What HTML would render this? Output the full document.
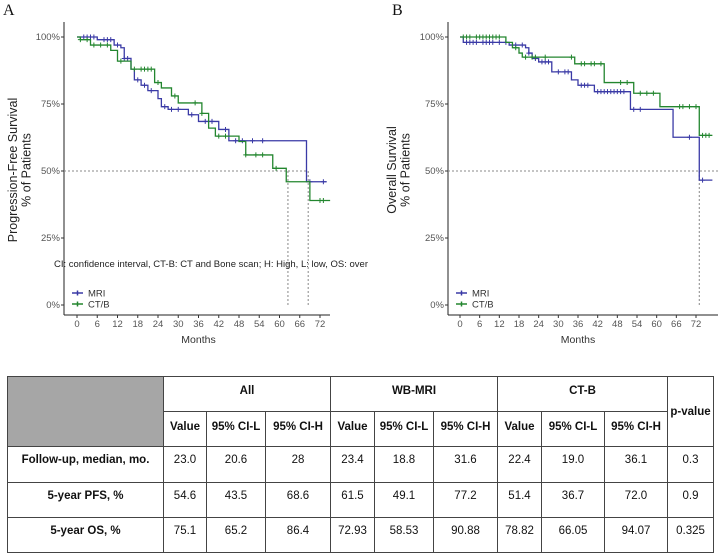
<!DOCTYPE html>
<html><head><meta charset="utf-8">
<style>
body{margin:0;width:718px;height:556px;background:#fff;position:relative;overflow:hidden;font-family:"Liberation Sans",sans-serif}
svg{position:absolute;left:0;top:0}
table{position:absolute;left:7px;top:376px;border-collapse:collapse;font-family:"Liberation Sans",sans-serif;font-size:11.5px;color:#111}
td{border:1.3px solid #444;padding:0;text-align:center;vertical-align:top}
.h td{font-weight:bold}
.gray{background:#a6a6a6}
.lab{font-weight:bold}
</style></head><body>
<svg id="chart" width="718" height="376"></svg>
<table>
<colgroup><col style="width:156px"><col style="width:43px"><col style="width:59px"><col style="width:65px"><col style="width:44px"><col style="width:59px"><col style="width:64px"><col style="width:44px"><col style="width:63px"><col style="width:63px"><col style="width:46px"></colgroup>
<tr class="h" style="height:35px"><td class="gray" rowspan="2"></td><td colspan="3" style="padding-top:8px">All</td><td colspan="3" style="padding-top:8px">WB-MRI</td><td colspan="3" style="padding-top:8px">CT-B</td><td rowspan="2" style="vertical-align:middle">p-value</td></tr>
<tr class="h" style="height:35px"><td style="padding-top:9px">Value</td><td style="padding-top:9px">95% CI-L</td><td style="padding-top:9px">95% CI-H</td><td style="padding-top:9px">Value</td><td style="padding-top:9px">95% CI-L</td><td style="padding-top:9px">95% CI-H</td><td style="padding-top:9px">Value</td><td style="padding-top:9px">95% CI-L</td><td style="padding-top:9px">95% CI-H</td></tr>
<tr style="height:36px"><td class="lab" style="padding-top:7px">Follow-up, median, mo.</td><td style="padding-top:7px">23.0</td><td style="padding-top:7px">20.6</td><td style="padding-top:7px">28</td><td style="padding-top:7px">23.4</td><td style="padding-top:7px">18.8</td><td style="padding-top:7px">31.6</td><td style="padding-top:7px">22.4</td><td style="padding-top:7px">19.0</td><td style="padding-top:7px">36.1</td><td style="padding-top:7px">0.3</td></tr>
<tr style="height:35px"><td class="lab" style="padding-top:7px">5-year PFS, %</td><td style="padding-top:7px">54.6</td><td style="padding-top:7px">43.5</td><td style="padding-top:7px">68.6</td><td style="padding-top:7px">61.5</td><td style="padding-top:7px">49.1</td><td style="padding-top:7px">77.2</td><td style="padding-top:7px">51.4</td><td style="padding-top:7px">36.7</td><td style="padding-top:7px">72.0</td><td style="padding-top:7px">0.9</td></tr>
<tr style="height:35px"><td class="lab" style="padding-top:7px">5-year OS, %</td><td style="padding-top:7px">75.1</td><td style="padding-top:7px">65.2</td><td style="padding-top:7px">86.4</td><td style="padding-top:7px">72.93</td><td style="padding-top:7px">58.53</td><td style="padding-top:7px">90.88</td><td style="padding-top:7px">78.82</td><td style="padding-top:7px">66.05</td><td style="padding-top:7px">94.07</td><td style="padding-top:7px">0.325</td></tr>
</table>
<script>
const xTicks=[0,6,12,18,24,30,36,42,48,54,60,66,72];
const yTicks=[0,25,50,75,100];
const yTickLabels=["0%","25%","50%","75%","100%"];
// Panel A PFS: step times / survival
const pfsMriT=[0,6,11,13,14,16,17,19,21,24,25,27,33,36,42,45,68,74];
const pfsMriS=[100,99,97,96,92,88,84,82,80,77,74,73,71,68.5,65.5,61.3,46,46];
const pfsCtT=[0,1,4,10,12,16,23,25,28,30,37,39,41,48,50,58,62,69,75];
const pfsCtS=[100,99,97,95,91,88,83,81,78,75.4,71.5,66,63,61,56,51,46,39,39];
const pfsMriCens=[2,3,4,5,8,9,10,12,14,15,18,20,22,26,28,30,34,38,40,44,47,49,52,55,69,73];
const pfsCtCens=[1,3,5,7,9,13,17,19,20,21,22,24,29,35,37,42,44,50,53,55,59,72,73];
// Panel B OS
const osMriT=[0,1,15,20,21,22,24,28,34,36,41,52,65,73,77];
const osMriS=[100,98,97,96,94,92,90.7,87,84,82,79.6,73,62.6,46.6,46.6];
const osCtT=[0,14,16,18,19,35,44,53,61,73,77];
const osCtS=[100,98,96,94,92.5,90,83,79,74,63.3,63.3];
const osMriCens=[2,3,4,5,7,8,9,10,12,14,17,19,21,23,25,26,27,30,32,33,37,38,39,42,43,44,45,46,47,48,49,50,53,55,70,74];
const osCtCens=[1,2,3,5,6,7,8,9,10,11,12,17,20,22,23,26,34,37,38,40,41,43,49,51,55,57,59,67,68,70,72,74,75,76];

const svg=document.getElementById('chart');
const NS='http://www.w3.org/2000/svg';
function mk(tag,attrs,parent){const e=document.createElementNS(NS,tag);for(const k in attrs)e.setAttribute(k,attrs[k]);(parent||svg).appendChild(e);return e;}
function txt(s,x,y,attrs,parent){const e=mk('text',Object.assign({x:x,y:y},attrs),parent);e.textContent=s;return e;}
const BLUE='#3a3aa6',GREEN='#23862f';
function stepVal(T,S,t){let v=S[0];for(let i=0;i<T.length;i++){if(T[i]<=t)v=S[i];}return v;}

function panel(cfg){
  const g=mk('g',{});
  
  
  const xs=m=>cfg.x0+(cfg.x72-cfg.x0)*m/72;
  const ys=p=>cfg.y0-(cfg.y0-cfg.y100)*p/100;
  const ya=mk('line',{x1:cfg.ax,y1:22,x2:cfg.ax,y2:315,stroke:'#222','stroke-width':1},g);
  
  const xa=mk('line',{x1:cfg.ax,y1:315,x2:cfg.axEnd,y2:315,stroke:'#222','stroke-width':1},g);
  
  xTicks.forEach(t=>{mk('line',{x1:xs(t),y1:315,x2:xs(t),y2:318,stroke:'#333'},g);
    const l=txt(String(t),xs(t),327,{'font-size':9.5,fill:'#555','text-anchor':'middle'},g);
    });
  yTicks.forEach((t,i)=>{mk('line',{x1:cfg.ax-3,y1:ys(t),x2:cfg.ax,y2:ys(t),stroke:'#333'},g);
    const l=txt(yTickLabels[i],cfg.ax-4,ys(t)+3,{'font-size':9.5,fill:'#555','text-anchor':'end'},g);
    });
  const xt=txt('Months',(cfg.x0+cfg.x72)/2,343,{'font-size':10.5,fill:'#333','text-anchor':'middle'},g);
  
  const yt=mk('text',{transform:`translate(${cfg.ytx},170) rotate(-90)`,'font-size':12.5,fill:'#222','text-anchor':'middle'},g);
  
  const s1=mk('tspan',{x:0,dy:0},yt);s1.textContent=cfg.ytitle;
  const s2=mk('tspan',{x:0,dy:13.5},yt);s2.textContent='% of Patients';
  mk('line',{x1:cfg.ax,y1:ys(50),x2:cfg.medEnd,y2:ys(50),stroke:'#888','stroke-dasharray':'2,2'},g);
  cfg.medV.forEach(m=>mk('line',{x1:xs(m),y1:ys(50),x2:xs(m),y2:ys(0),stroke:'#888','stroke-dasharray':'2,2'},g));
  cfg.series.forEach(s=>{
    let d=`M${xs(s.T[0])},${ys(s.S[0])}`;
    for(let i=1;i<s.T.length;i++){d+=`H${xs(s.T[i])}V${ys(s.S[i])}`;}
    const p=mk('path',{d:d,fill:'none',stroke:s.c,'stroke-width':1.3},g);
    
    s.cens.forEach(t=>{const x=xs(t),y=ys(stepVal(s.T,s.S,t));
      const c=mk('path',{d:`M${x-2.5},${y}H${x+2.5}M${x},${y-2.5}V${y+2.5}`,stroke:s.c,'stroke-width':1},g);
      });
  });
  [[BLUE,'MRI',293],[GREEN,'CT/B',304]].forEach(([c,l,y])=>{
    const lg=mk('g',{},g);
    mk('path',{d:`M${cfg.ax+8},${y}h11M${cfg.ax+13.5},${y-2.5}v5`,stroke:c,'stroke-width':1.5},lg);
    txt(l,cfg.ax+24,y+3.5,{'font-size':9.5,fill:'#333'},lg);
  });
  const pl=txt(cfg.label,cfg.lx,15,{'font-size':16,fill:'#111','font-family':'Liberation Serif, serif'},g);
  
}
panel({name:'panel-a-pfs',label:'A',lx:3,x0:77,x72:320,y0:305,y100:37,ax:64,axEnd:330,ytx:17,ytitle:'Progression-Free Survival',medEnd:307,medV:[62.5,68.5],
  series:[{name:'pfs-mri-line',T:pfsMriT,S:pfsMriS,c:BLUE,cens:pfsMriCens},{name:'pfs-ctb-line',T:pfsCtT,S:pfsCtS,c:GREEN,cens:pfsCtCens}]});
panel({name:'panel-b-os',label:'B',lx:392,x0:460,x72:696,y0:305,y100:37,ax:448,axEnd:718,ytx:396,ytitle:'Overall Survival',medEnd:718,medV:[73],
  series:[{name:'os-mri-line',T:osMriT,S:osMriS,c:BLUE,cens:osMriCens},{name:'os-ctb-line',T:osCtT,S:osCtS,c:GREEN,cens:osCtCens}]});
const note=txt('CI: confidence interval, CT-B: CT and Bone scan; H: High, L: low, OS: over',54,267,{'font-size':9.5,fill:'#222'});


</script>
</body></html>
